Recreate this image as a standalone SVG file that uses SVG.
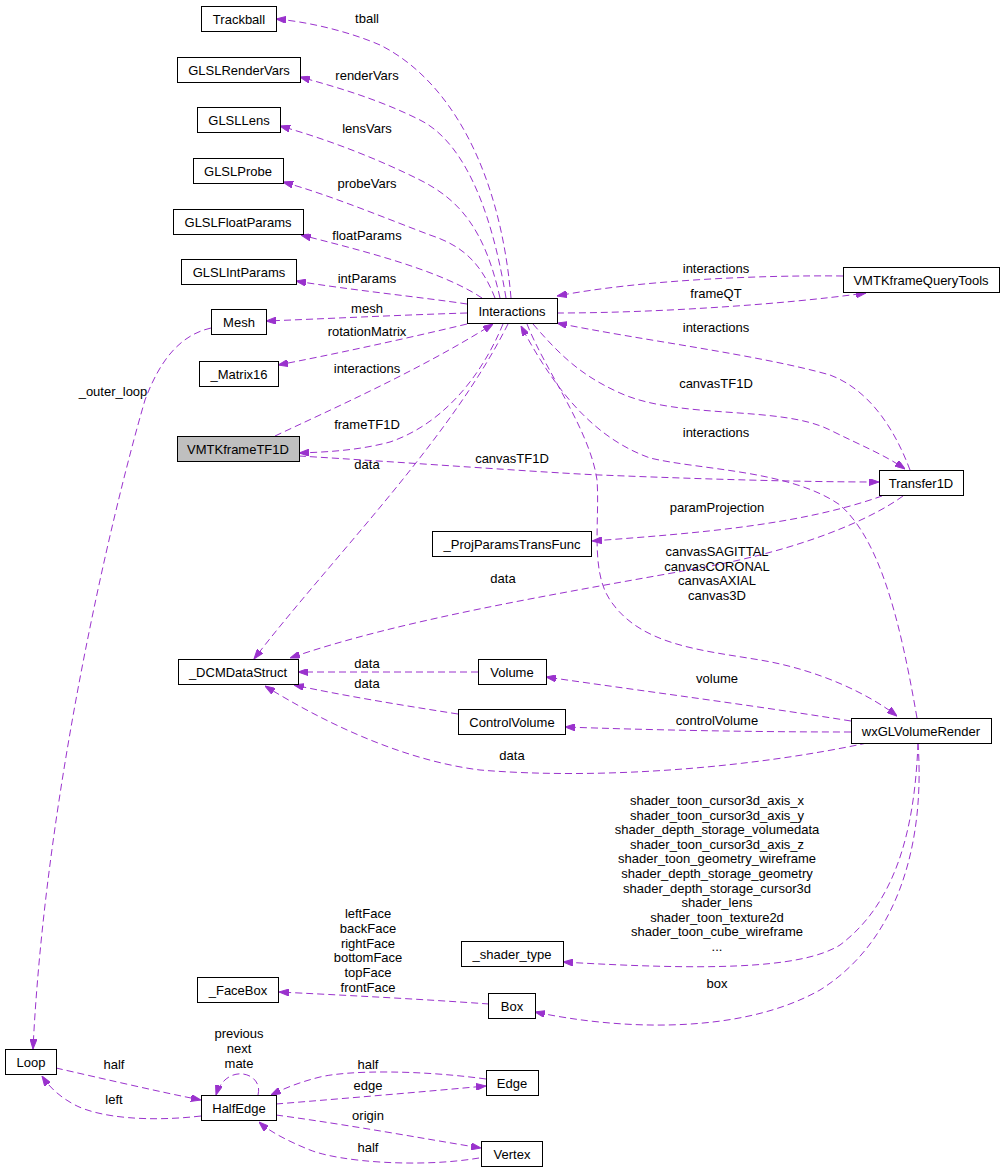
<svg xmlns="http://www.w3.org/2000/svg" width="1005" height="1172" viewBox="0 0 1005 1172">
<defs>
<marker id="ah" viewBox="0 0 10 7" refX="10" refY="3.5" markerWidth="10" markerHeight="7" markerUnits="userSpaceOnUse" orient="auto">
<path d="M0,0 L10,3.5 L0,7 z" fill="#9a32cd" stroke="#9a32cd" stroke-width="1"/>
</marker>
</defs>
<style>
.n rect{fill:#ffffff;stroke:#000000;stroke-width:1}
.n.g rect{fill:#bfbfbf}
text{font-family:"Liberation Sans",Arial,sans-serif;font-size:13px;fill:#000000;text-anchor:middle}
.e path{fill:none;stroke:#9a32cd;stroke-width:1;stroke-dasharray:7,4;marker-end:url(#ah)}
</style>
<rect width="1005" height="1172" fill="#ffffff"/>
<g id="connectors" class="e">
<path d="M511,298 C500,170 450,80 380,45 C350,32 310,22 276,19"/>
<path d="M506,298 C490,200 460,140 420,120 C380,100 340,88 300,77"/>
<path d="M500,298 C485,230 460,200 420,180 C380,160 330,140 280,126"/>
<path d="M495,298 C480,260 460,245 430,235 C390,220 330,195 283,182"/>
<path d="M482,298 C440,270 360,250 301,235"/>
<path d="M467,304 C420,297 350,290 296,281"/>
<path d="M467,313 C400,315 320,319 266,321"/>
<path d="M467,324 C400,340 330,355 278,365"/>
<path d="M275,436 C330,410 420,370 493,324"/>
<path d="M503,324 C480,380 440,425 390,442 C360,450 330,452 299,453"/>
<path d="M508,324 C450,440 330,560 254,659"/>
<path d="M299,456 C400,462 550,473 600,475 C700,479 800,482 879,482"/>
<path d="M533,324 C560,355 580,375 620,393 C680,420 780,405 830,430 C860,445 885,455 905,469"/>
<path d="M910,470 C895,430 870,390 830,375 C760,355 640,340 557,323"/>
<path d="M843,276 C760,275 640,280 557,296"/>
<path d="M557,313 C650,313 780,305 866,293"/>
<path d="M917,718 C900,620 880,540 840,505 C790,470 700,470 650,458 C600,440 560,400 521,326"/>
<path d="M527,324 C545,370 590,430 597,480 C600,520 590,570 610,600 C640,645 700,650 760,660 C820,670 870,695 897,716"/>
<path d="M882,496 C800,525 700,533 592,541"/>
<path d="M903,496 C870,520 800,550 700,568 C550,595 400,620 290,658"/>
<path d="M851,721 C750,705 650,692 546,677"/>
<path d="M851,732 C750,732 650,730 565,727"/>
<path d="M867,743 C750,768 600,780 480,770 C400,760 320,720 265,686"/>
<path d="M478,672 L298,672"/>
<path d="M458,714 C400,705 340,695 294,685"/>
<path d="M918,743 C915,820 900,900 840,945 C800,970 700,970 563,962"/>
<path d="M918,743 C925,840 900,940 820,990 C740,1035 620,1030 535,1012"/>
<path d="M489,1004 C420,999 340,995 279,992"/>
<path d="M211,328 C180,335 160,360 145,400 C110,520 45,800 33,1049"/>
<path d="M56,1068 C100,1078 160,1092 201,1100"/>
<path d="M201,1116 C150,1122 100,1118 75,1105 C60,1097 50,1088 42,1076"/>
<path d="M258,1095 C264,1072 226,1062 216,1095"/>
<path d="M486,1079 C420,1070 350,1070 320,1077 C300,1082 285,1088 271,1095"/>
<path d="M276,1104 C350,1098 420,1092 486,1086"/>
<path d="M276,1115 C350,1125 420,1138 481,1148"/>
<path d="M479,1158 C420,1168 340,1162 310,1150 C290,1142 270,1132 259,1122"/>
</g>
<g id="labels">
<text x="367" y="23">tball</text>
<text x="367" y="80">renderVars</text>
<text x="367" y="133">lensVars</text>
<text x="367" y="188">probeVars</text>
<text x="367" y="240">floatParams</text>
<text x="367" y="283">intParams</text>
<text x="367" y="313">mesh</text>
<text x="367" y="336">rotationMatrix</text>
<text x="367" y="373">interactions</text>
<text x="367" y="429">frameTF1D</text>
<text x="367" y="469">data</text>
<text x="512" y="463">canvasTF1D</text>
<text x="716" y="273">interactions</text>
<text x="716" y="298">frameQT</text>
<text x="716" y="332">interactions</text>
<text x="716" y="388">canvasTF1D</text>
<text x="716" y="437">interactions</text>
<text x="717" y="512">paramProjection</text>
<text x="717" y="556">canvasSAGITTAL</text>
<text x="717" y="571">canvasCORONAL</text>
<text x="717" y="585">canvasAXIAL</text>
<text x="717" y="600">canvas3D</text>
<text x="503" y="583">data</text>
<text x="717" y="683">volume</text>
<text x="717" y="725">controlVolume</text>
<text x="367" y="668">data</text>
<text x="367" y="688">data</text>
<text x="512" y="760">data</text>
<text x="717" y="805">shader_toon_cursor3d_axis_x</text>
<text x="717" y="819.6">shader_toon_cursor3d_axis_y</text>
<text x="717" y="834.2">shader_depth_storage_volumedata</text>
<text x="717" y="848.8">shader_toon_cursor3d_axis_z</text>
<text x="717" y="863.4">shader_toon_geometry_wireframe</text>
<text x="717" y="878">shader_depth_storage_geometry</text>
<text x="717" y="892.6">shader_depth_storage_cursor3d</text>
<text x="717" y="907.2">shader_lens</text>
<text x="717" y="921.8">shader_toon_texture2d</text>
<text x="717" y="936.4">shader_toon_cube_wireframe</text>
<text x="717" y="951">...</text>
<text x="717" y="988">box</text>
<text x="368" y="918">leftFace</text>
<text x="368" y="933">backFace</text>
<text x="368" y="948">rightFace</text>
<text x="368" y="962">bottomFace</text>
<text x="368" y="977">topFace</text>
<text x="368" y="992">frontFace</text>
<text x="113" y="396">_outer_loop</text>
<text x="239" y="1038">previous</text>
<text x="239" y="1053">next</text>
<text x="239" y="1068">mate</text>
<text x="114" y="1069">half</text>
<text x="114" y="1104">left</text>
<text x="368" y="1069">half</text>
<text x="368" y="1090">edge</text>
<text x="368" y="1120">origin</text>
<text x="368" y="1152">half</text>
</g>
<g id="Trackball" class="n"><rect x="201.5" y="6.5" width="75" height="25"/><text x="239" y="24">Trackball</text></g>
<g id="GLSLRenderVars" class="n"><rect x="177.5" y="57.5" width="123" height="25"/><text x="239" y="75">GLSLRenderVars</text></g>
<g id="GLSLLens" class="n"><rect x="197.5" y="107.5" width="83" height="25"/><text x="239" y="125">GLSLLens</text></g>
<g id="GLSLProbe" class="n"><rect x="193.5" y="158.5" width="90" height="25"/><text x="238" y="176">GLSLProbe</text></g>
<g id="GLSLFloatParams" class="n"><rect x="173.5" y="209.5" width="130" height="25"/><text x="238" y="227">GLSLFloatParams</text></g>
<g id="GLSLIntParams" class="n"><rect x="181.5" y="259.5" width="115" height="25"/><text x="239" y="277">GLSLIntParams</text></g>
<g id="Mesh" class="n"><rect x="211.5" y="309.5" width="55" height="25"/><text x="239" y="327">Mesh</text></g>
<g id="Matrix16" class="n"><rect x="199.5" y="361.5" width="79" height="25"/><text x="239" y="379">_Matrix16</text></g>
<g id="VMTKframeTF1D" class="n g"><rect x="177.5" y="436.5" width="122" height="25"/><text x="238" y="454">VMTKframeTF1D</text></g>
<g id="Interactions" class="n"><rect x="467.5" y="298.5" width="90" height="25"/><text x="512" y="316">Interactions</text></g>
<g id="VMTKframeQueryTools" class="n"><rect x="843.5" y="267.5" width="156" height="25"/><text x="921" y="285">VMTKframeQueryTools</text></g>
<g id="Transfer1D" class="n"><rect x="879.5" y="470.5" width="84" height="25"/><text x="921" y="488">Transfer1D</text></g>
<g id="ProjParamsTransFunc" class="n"><rect x="432.5" y="531.5" width="159" height="25"/><text x="512" y="549">_ProjParamsTransFunc</text></g>
<g id="DCMDataStruct" class="n"><rect x="178.5" y="659.5" width="120" height="25"/><text x="238" y="677">_DCMDataStruct</text></g>
<g id="Volume" class="n"><rect x="478.5" y="659.5" width="68" height="25"/><text x="512" y="677">Volume</text></g>
<g id="ControlVolume" class="n"><rect x="458.5" y="709.5" width="107" height="25"/><text x="512" y="727">ControlVolume</text></g>
<g id="wxGLVolumeRender" class="n"><rect x="851.5" y="718.5" width="140" height="25"/><text x="921" y="736">wxGLVolumeRender</text></g>
<g id="shader_type" class="n"><rect x="461.5" y="941.5" width="102" height="25"/><text x="512" y="959">_shader_type</text></g>
<g id="FaceBox" class="n"><rect x="197.5" y="977.5" width="81" height="25"/><text x="238" y="995">_FaceBox</text></g>
<g id="Box" class="n"><rect x="488.5" y="993.5" width="47" height="25"/><text x="512" y="1011">Box</text></g>
<g id="Loop" class="n"><rect x="5.5" y="1049.5" width="51" height="25"/><text x="31" y="1067">Loop</text></g>
<g id="HalfEdge" class="n"><rect x="201.5" y="1095.5" width="75" height="25"/><text x="239" y="1113">HalfEdge</text></g>
<g id="Edge" class="n"><rect x="486.5" y="1070.5" width="52" height="25"/><text x="512" y="1088">Edge</text></g>
<g id="Vertex" class="n"><rect x="481.5" y="1141.5" width="61" height="25"/><text x="512" y="1159">Vertex</text></g>
</svg>
